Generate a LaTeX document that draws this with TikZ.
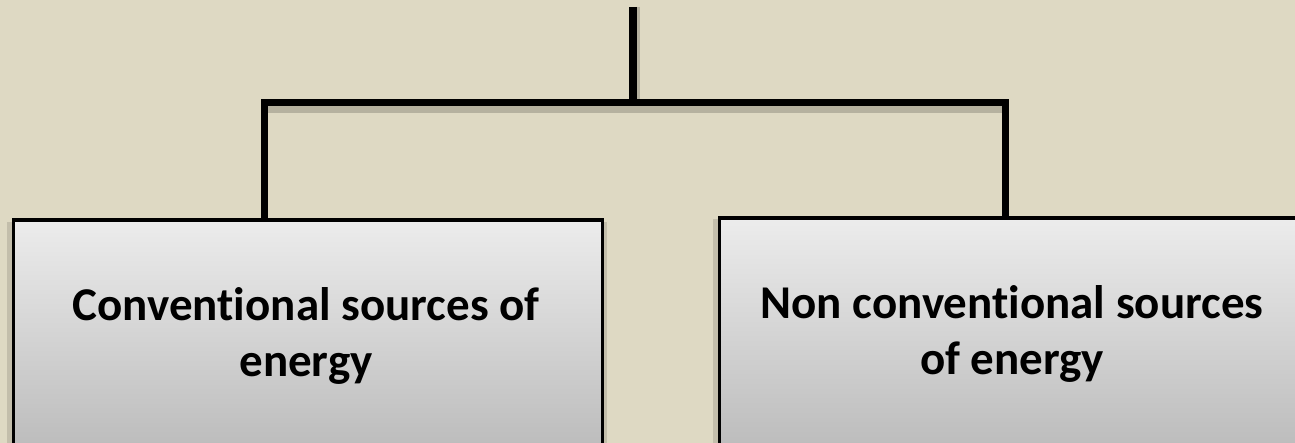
\documentclass[tikz,border=0pt]{standalone}
\usepackage{fontspec}
\setmainfont{Carlito}[Ligatures=NoCommon]
\begin{document}
\begin{tikzpicture}[x=1pt,y=-1pt,
  boxshape/.style={draw=black,line width=3.5pt,top color=boxtop,bottom color=boxbot,inner sep=0pt,anchor=north west},
  label/.style={font=\bfseries\fontsize{47}{56}\selectfont,align=center,inner sep=0pt},
  conn/.style={draw=black,line width=8pt,line join=miter},
  shade/.style={draw=black,opacity=0.18,line width=8pt}]
\definecolor{bg}{RGB}{222,217,195}
\definecolor{boxtop}{RGB}{236,236,236}
\definecolor{boxbot}{RGB}{188,188,188}
\useasboundingbox (0,0) rectangle (1295,443);
\clip (0,0) rectangle (1295,443);
\fill[bg] (0,0) rectangle (1295,443);
% box shadows
\fill[black,opacity=0.12] (7,222) rectangle (607,450);
\fill[black,opacity=0.12] (713,219) rectangle (1320,450);
% boxes
\node[boxshape,minimum width=589pt,minimum height=228pt] (L) at (11.5,218.5) {};
\node[boxshape,minimum width=595pt,minimum height=230pt] (R) at (717.5,216.5) {};
\node[label] (Lt) at (306,336) {Conventional sources of\\energy};
\node[label] (Rt) at (1012,334) {Non conventional sources\\of energy};
% connectors
\coordinate (top) at (633,7);
\coordinate (j) at (633,103);
\coordinate (jl) at (264,103);
\coordinate (jr) at (1005,103);
\draw[shade] ([yshift=-6pt]jl) -- ([yshift=-6pt]jr);
\draw[shade] ([xshift=3pt]top) -- ([xshift=3pt]j);
\draw[conn,line width=7pt] (jl |- L.north) -- (jl) -- (jr) -- (jr |- R.north);
\draw[conn] (top) -- (j);
\end{tikzpicture}
\end{document}
